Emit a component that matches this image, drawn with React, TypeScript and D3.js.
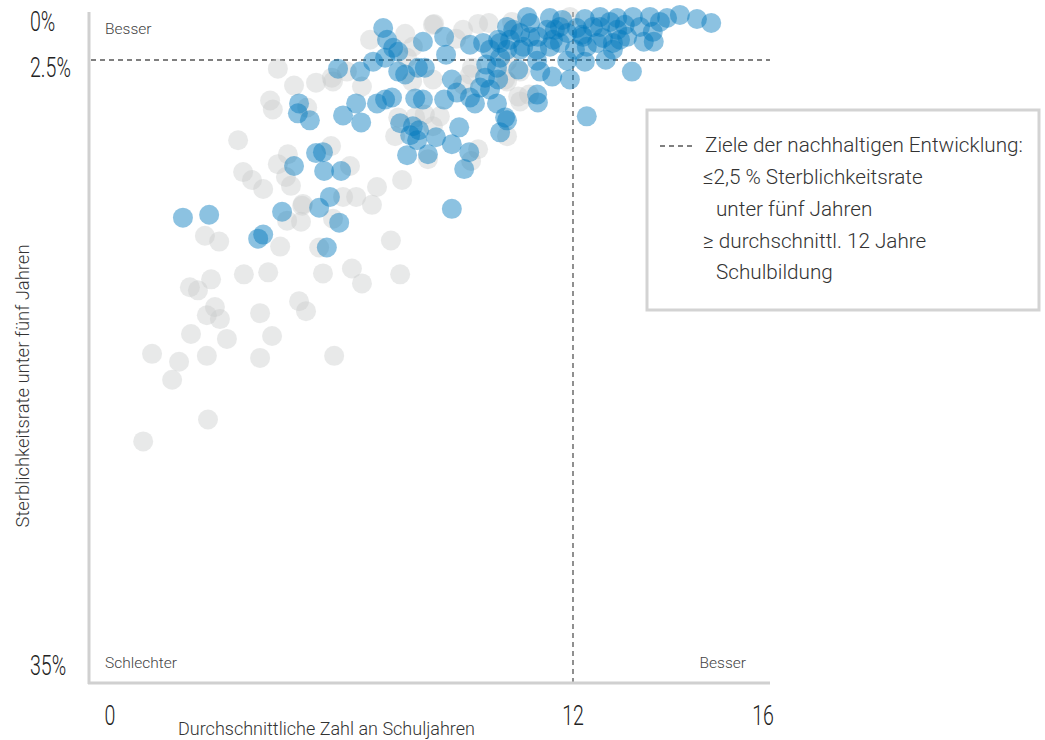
import React from "react";
import * as d3 from "d3";

// [Durchschnittliche Schuljahre, Sterblichkeitsrate unter 5 Jahren in %]
const highlighted: [number, number][] = [
  [1.89, 11.07], [2.57, 10.91], [3.84, 12.21], [3.97, 11.99], [4.46, 10.75], [4.77, 8.26],
  [5.34, 7.56], [5.52, 7.51], [5.55, 8.53], [5.99, 8.53], [5.7, 9.94], [5.42, 10.53],
  [5.94, 11.34], [5.62, 12.69], [4.9, 4.86], [4.87, 5.4], [5.18, 5.78], [5.91, 2.97],
  [6.04, 5.51], [6.51, 5.89], [6.38, 4.86], [6.92, 4.86], [7.13, 4.65], [7.31, 4.54],
  [7.91, 4.59], [8.11, 4.65], [8.66, 4.65], [9.46, 4.86], [10.03, 4.86], [7.52, 5.94],
  [7.85, 6.1], [8.01, 6.32], [7.78, 6.59], [7.96, 6.86], [8.45, 6.7], [9.05, 6.16],
  [10.24, 5.62], [10.29, 5.78], [10.11, 6.43], [7.7, 7.67], [8.24, 7.62], [8.86, 7.08],
  [9.31, 7.51], [9.18, 8.43], [8.86, 10.59],
  [7.08, 0.76], [7.18, 1.4], [7.34, 1.84], [7.47, 2.05], [8.11, 1.51], [8.66, 1.24],
  [8.71, 2.21], [6.82, 2.59], [7.13, 2.38], [6.48, 3.13], [7.47, 3.13], [7.65, 3.29],
  [7.98, 2.92], [8.16, 2.92], [8.86, 3.56], [8.99, 4.27], [9.33, 4.54], [9.33, 1.67],
  [9.67, 1.57], [9.85, 1.94], [10.06, 1.4], [9.75, 2.75], [10.03, 2.92], [9.59, 4.0],
  [9.85, 4.11], [9.72, 3.46], [10.06, 3.56],
  [10.45, 0.86], [10.63, 1.03], [10.89, 1.24], [10.71, 1.78], [11.07, 1.94], [11.33, 0.86],
  [11.48, 1.4], [11.66, 0.7], [11.85, 1.03], [12.19, 1.13], [12.29, 1.78], [12.42, 0.7],
  [12.51, 1.57],
  [10.81, 0.16], [11.4, 0.22], [12.25, 0.27], [12.57, 0.16], [12.93, 0.22], [13.26, 0.16],
  [13.62, 0.16], [13.98, 0.22], [14.25, 0.05], [14.61, 0.27], [14.91, 0.49],
  [10.29, 0.7], [11.09, 1.24], [11.53, 0.86], [11.66, 1.57], [12.08, 0.76], [12.21, 1.24],
  [12.57, 0.7], [12.93, 0.86], [13.14, 1.24], [13.41, 0.7], [13.68, 0.97], [13.49, 1.51],
  [13.7, 1.51], [12.84, 1.57], [12.63, 1.3],
  [10.11, 1.57], [10.29, 1.94], [10.63, 1.94], [11.4, 1.78], [10.11, 2.38], [11.07, 2.54],
  [10.58, 3.02], [11.46, 3.4], [11.92, 3.56], [11.85, 2.54], [12.25, 2.59], [12.69, 2.48],
  [12.84, 1.94], [11.07, 4.38], [11.09, 4.81], [13.24, 3.13], [12.29, 5.56],
  [10.89, 0.49], [11.72, 0.32], [12.78, 0.43], [13.09, 0.59], [13.83, 0.43], [12.99, 1.4],
  [12.04, 1.94], [11.15, 3.13], [10.37, 1.4],
];

const others: [number, number][] = [
  [2.72, 15.93], [2.51, 16.37], [2.85, 16.58], [3.89, 16.26], [4.9, 15.61], [5.08, 16.15],
  [2.1, 17.39], [3.03, 17.66], [4.2, 17.5], [1.09, 18.47], [1.79, 18.9], [2.51, 18.58],
  [3.89, 18.69], [5.81, 18.58], [1.61, 19.88], [2.54, 22.04], [0.86, 23.23],
  [2.46, 12.05], [2.83, 12.37], [4.41, 12.64], [3.47, 14.15], [4.1, 14.04], [2.07, 14.85],
  [2.28, 15.02], [2.62, 14.42], [4.59, 11.23], [4.95, 11.29], [4.98, 10.42], [6.04, 9.94],
  [5.42, 12.69], [5.52, 14.1], [6.27, 13.83],
  [3.68, 9.02], [3.97, 9.51], [4.56, 8.86], [4.69, 9.34], [4.35, 2.97], [4.77, 3.89],
  [5.34, 3.73], [5.75, 3.46], [4.15, 4.7], [4.22, 5.19], [5.11, 5.08], [3.32, 6.86],
  [4.61, 7.62], [4.35, 8.16], [5.73, 7.18], [3.45, 8.59],
  [6.22, 8.26], [6.92, 9.4], [7.57, 9.02], [9.36, 7.99], [6.38, 9.94], [6.79, 10.37],
  [5.0, 10.32], [5.78, 11.13], [7.28, 12.31], [7.52, 14.15], [6.53, 14.64],
  [10.63, 4.75], [7.91, 5.62], [7.39, 6.64], [8.55, 5.56], [8.37, 6.1], [10.29, 6.64],
  [8.24, 7.89], [9.54, 7.35],
  [6.74, 1.4], [7.65, 1.08], [8.4, 0.54], [8.97, 1.35], [9.15, 0.86], [9.54, 0.54],
  [9.82, 0.49], [10.42, 0.43], [7.85, 1.78], [7.7, 2.38], [6.14, 3.13], [7.83, 3.67],
  [5.78, 3.67], [6.53, 3.94], [9.33, 3.29], [10.29, 3.67], [10.63, 3.13], [10.58, 4.48],
  [9.15, 3.83], [8.16, 5.46], [7.47, 5.62], [10.86, 4.38], [11.92, 0.16], [10.29, 2.59],
  [10.24, 3.56], [8.37, 3.56], [9.38, 2.92], [8.37, 0.59],
];

const xTicks = [0, 12, 16];
const yTicks = [0, 2.5, 35];
const yTickLabels = ["0%", "2.5%", "35%"];
const goalSchooling = 12;
const goalMortality = 2.5;

const legendLines = [
  "Ziele der nachhaltigen Entwicklung:",
  "≤2,5 % Sterblichkeitsrate",
  "unter fünf Jahren",
  "≥ durchschnittl. 12 Jahre",
  "Schulbildung",
];

const font = "Roboto, 'Open Sans', sans-serif";

export default function App() {
  const width = 1045;
  const height = 740;

  // Skala im Original ist nicht gleichmäßig: 0–12 enger als 12–16
  const x = d3.scaleLinear().domain([0, 12, 16]).range([110, 573, 763]);
  const y = d3.scaleLinear().domain([0, 35]).range([14, 658]);

  const axisLeft = 89;
  const axisBottom = 683;
  const axisRight = 770;

  const blue = "#0077bd";
  const grey = "#c8cbcb";
  const squeeze = 0.7; // schmale Ziffern wie im Original

  return (
    <svg
      width={width}
      height={height}
      style={{ position: "absolute", left: 0, top: 0, background: "#fff" }}
    >
      {/* Zielwerte */}
      <line
        x1={axisLeft + 2}
        x2={axisRight}
        y1={y(goalMortality)}
        y2={y(goalMortality)}
        stroke="#555"
        strokeWidth={1.3}
        strokeDasharray="5,4"
      />
      <line
        x1={x(goalSchooling)}
        x2={x(goalSchooling)}
        y1={12}
        y2={axisBottom}
        stroke="#555"
        strokeWidth={1.3}
        strokeDasharray="5,4"
      />

      {others.map((d, i) => (
        <circle key={"o" + i} cx={x(d[0])} cy={y(d[1])} r={10} fill={grey} fillOpacity={0.42} />
      ))}
      {highlighted.map((d, i) => (
        <circle key={"h" + i} cx={x(d[0])} cy={y(d[1])} r={10} fill={blue} fillOpacity={0.45} />
      ))}

      {/* Achsen */}
      <line x1={axisLeft} x2={axisLeft} y1={12} y2={axisBottom + 1} stroke="#d0d0d0" strokeWidth={3} />
      <line x1={axisLeft - 1} x2={axisRight} y1={axisBottom} y2={axisBottom} stroke="#d0d0d0" strokeWidth={3} />

      {yTicks.map((t, i) => (
        <text
          key={"yt" + i}
          transform={`translate(30,${y(t) + 7}) scale(${squeeze},1)`}
          dy="0.35em"
          fontFamily={font}
          fontWeight={300}
          fontSize={28}
          fill="#222"
        >
          {yTickLabels[i]}
        </text>
      ))}
      {xTicks.map((t) => (
        <text
          key={"xt" + t}
          transform={`translate(${x(t)},715) scale(${squeeze},1)`}
          dy="0.35em"
          textAnchor="middle"
          fontFamily={font}
          fontWeight={300}
          fontSize={28}
          fill="#222"
        >
          {t}
        </text>
      ))}

      <text
        x={178}
        y={729}
        dy="0.35em"
        fontFamily={font}
        fontWeight={300}
        fontSize={17.5}
        fill="#333"
        textLength={297}
        lengthAdjust="spacingAndGlyphs"
      >
        Durchschnittliche Zahl an Schuljahren
      </text>
      <text
        transform={`translate(23,386) rotate(-90)`}
        textAnchor="middle"
        dy="0.35em"
        fontFamily={font}
        fontWeight={300}
        fontSize={17.5}
        fill="#333"
        textLength={283}
        lengthAdjust="spacingAndGlyphs"
      >
        Sterblichkeitsrate unter fünf Jahren
      </text>

      <text x={105} y={29} dy="0.35em" fontFamily={font} fontWeight={300} fontSize={15.5} fill="#444">
        Besser
      </text>
      <text x={105} y={663} dy="0.35em" fontFamily={font} fontWeight={300} fontSize={15.5} fill="#444">
        Schlechter
      </text>
      <text x={746} y={663} dy="0.35em" textAnchor="end" fontFamily={font} fontWeight={300} fontSize={15.5} fill="#444">
        Besser
      </text>

      {/* Legende */}
      <rect x={647} y={110} width={392} height={200} fill="#fff" stroke="#d3d3d3" strokeWidth={3} />
      <line x1={660} x2={693} y1={146} y2={146} stroke="#555" strokeWidth={1.3} strokeDasharray="5,4" />
      {legendLines.map((l, i) => (
        <text
          key={"l" + i}
          x={i === 0 ? 705 : i === 2 || i === 4 ? 716 : 703}
          y={145 + i * 31.8}
          dy="0.35em"
          fontFamily={font}
          fontWeight={300}
          fontSize={20.7}
          fill="#333"
        >
          {l}
        </text>
      ))}
    </svg>
  );
}
